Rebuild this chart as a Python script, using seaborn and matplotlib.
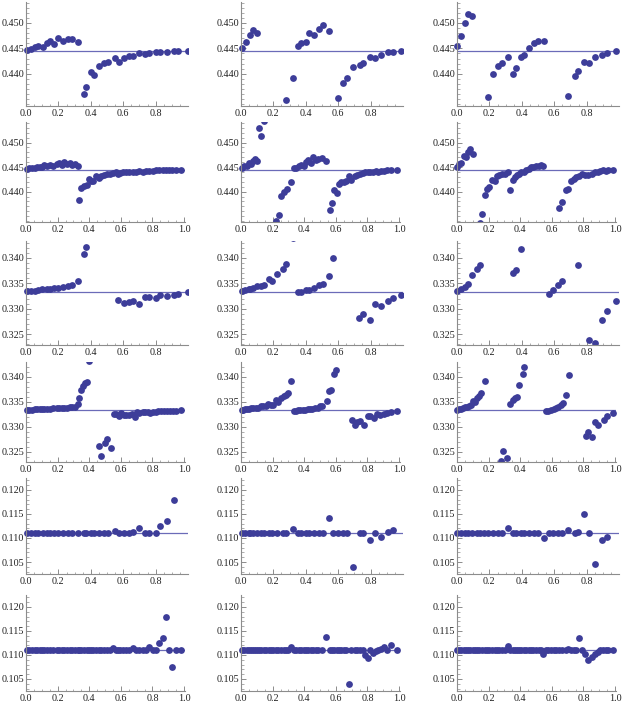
import matplotlib.pyplot as plt
from matplotlib.ticker import MultipleLocator, FixedLocator, FormatStrFormatter
import seaborn as sns

# ---- data (x, value) ----
# row 1  (level 4/9)
r1c1_x = [0.006, 0.033, 0.057, 0.074, 0.103, 0.129, 0.146, 0.174, 0.197, 0.226, 0.258, 0.283, 0.320,
          0.355, 0.371, 0.402, 0.421, 0.453, 0.484, 0.509, 0.550, 0.574, 0.603, 0.636, 0.658, 0.699,
          0.734, 0.759, 0.800, 0.827, 0.868, 0.911, 0.939, 0.997]
r1c1_y = [0.4447, 0.4449, 0.4452, 0.4454, 0.4453, 0.4461, 0.4464, 0.4459, 0.4470, 0.4464, 0.4468, 0.4469, 0.4462,
          0.4361, 0.4374, 0.4404, 0.4397, 0.4416, 0.4421, 0.4423, 0.4431, 0.4424, 0.4432, 0.4435, 0.4436, 0.4440,
          0.4439, 0.4440, 0.4442, 0.4442, 0.4443, 0.4444, 0.4444, 0.4444]
r1c2_x = [0.006, 0.031, 0.053, 0.071, 0.098, 0.279, 0.320, 0.352, 0.371, 0.401, 0.420, 0.448, 0.483, 0.505,
          0.544, 0.601, 0.631, 0.656, 0.694, 0.733, 0.754, 0.794, 0.825, 0.862, 0.906, 0.937, 0.988]
r1c2_y = [0.4451, 0.4462, 0.4477, 0.4486, 0.4481, 0.4349, 0.4391, 0.4455, 0.4461, 0.4462, 0.4481, 0.4477, 0.4488, 0.4495,
          0.4484, 0.4353, 0.4382, 0.4391, 0.4414, 0.4418, 0.4422, 0.4433, 0.4431, 0.4438, 0.4442, 0.4443, 0.4445]
r1c3_x = [0.002, 0.026, 0.051, 0.067, 0.095, 0.190, 0.221, 0.253, 0.277, 0.316, 0.348, 0.366, 0.395, 0.415,
          0.443, 0.476, 0.498, 0.538, 0.684, 0.727, 0.747, 0.787, 0.816, 0.852, 0.897, 0.927, 0.980]
r1c3_y = [0.4455, 0.4475, 0.4500, 0.4518, 0.4513, 0.4354, 0.4400, 0.4415, 0.4421, 0.4434, 0.4399, 0.4412, 0.4434, 0.4438,
          0.4450, 0.4460, 0.4465, 0.4464, 0.4356, 0.4395, 0.4405, 0.4424, 0.4421, 0.4434, 0.4438, 0.4441, 0.4444]

# row 2  (level 4/9, finer sampling)
r2c1_x = [0.006, 0.021, 0.038, 0.054, 0.071, 0.086, 0.100, 0.113, 0.132, 0.153, 0.174, 0.195, 0.209, 0.226,
          0.243, 0.259, 0.278, 0.293, 0.310, 0.326,
          0.337, 0.351, 0.368, 0.383, 0.397, 0.410, 0.425, 0.446, 0.460, 0.477, 0.494, 0.515, 0.531, 0.550,
          0.567, 0.582, 0.598, 0.615, 0.634, 0.655, 0.676, 0.697, 0.718, 0.738, 0.759, 0.780, 0.801, 0.822,
          0.843, 0.864, 0.885, 0.906, 0.927, 0.948, 0.979]
r2c1_y = [0.4447, 0.4448, 0.4449, 0.4449, 0.4450, 0.4450, 0.4450, 0.4455, 0.4453, 0.4454, 0.4452, 0.4456, 0.4458, 0.4455,
          0.4460, 0.4456, 0.4458, 0.4455, 0.4456, 0.4452,
          0.4382, 0.4407, 0.4412, 0.4414, 0.4426, 0.4422, 0.4422, 0.4431, 0.4427, 0.4432, 0.4434, 0.4435, 0.4436, 0.4437,
          0.4439, 0.4435, 0.4437, 0.4439, 0.4439, 0.4440, 0.4441, 0.4441, 0.4442, 0.4441, 0.4442, 0.4443, 0.4443, 0.4444,
          0.4444, 0.4444, 0.4444, 0.4444, 0.4444, 0.4444, 0.4444]
r2c2_x = [0.006, 0.021, 0.035, 0.048, 0.063, 0.077, 0.090, 0.104, 0.115, 0.129, 0.146,
          0.223, 0.240, 0.256, 0.273, 0.292, 0.319,
          0.333, 0.348, 0.365, 0.381, 0.396, 0.410, 0.427, 0.444, 0.458, 0.475, 0.490, 0.510, 0.535,
          0.563, 0.573, 0.590, 0.606, 0.619, 0.635, 0.652, 0.667, 0.683, 0.698, 0.719, 0.735, 0.752, 0.769,
          0.785, 0.802, 0.819, 0.835, 0.852, 0.869, 0.885, 0.906, 0.927, 0.948, 0.985]
r2c2_y = [0.4449, 0.4452, 0.4453, 0.4459, 0.4457, 0.4462, 0.4466, 0.4463, 0.4529, 0.4514, 0.4545,
          0.4340, 0.4352, 0.4392, 0.4400, 0.4405, 0.4420,
          0.4448, 0.4449, 0.4452, 0.4454, 0.4452, 0.4461, 0.4464, 0.4459, 0.4471, 0.4465, 0.4466, 0.4469, 0.4463,
          0.4363, 0.4376, 0.4403, 0.4397, 0.4416, 0.4419, 0.4420, 0.4422, 0.4431, 0.4424, 0.4432, 0.4434, 0.4435, 0.4437,
          0.4439, 0.4439, 0.4441, 0.4441, 0.4442, 0.4441, 0.4443, 0.4443, 0.4444, 0.4444, 0.4444]
r2c3_x = [0.002, 0.015, 0.027, 0.042, 0.057, 0.069, 0.084, 0.099,
          0.147, 0.158, 0.175, 0.192, 0.204, 0.221, 0.238, 0.253, 0.267, 0.284, 0.301, 0.322,
          0.337, 0.352, 0.364, 0.379, 0.394, 0.406, 0.421, 0.436, 0.453, 0.469, 0.484, 0.499, 0.516, 0.533, 0.547,
          0.648, 0.667, 0.688, 0.705, 0.722, 0.739, 0.756, 0.773, 0.789, 0.811, 0.832, 0.853, 0.874, 0.891,
          0.907, 0.926, 0.941, 0.958, 0.989]
r2c3_y = [0.4451, 0.4456, 0.4458, 0.4473, 0.4470, 0.4480, 0.4486, 0.4476,
          0.4335, 0.4354, 0.4393, 0.4405, 0.4410, 0.4424, 0.4422, 0.4431, 0.4433, 0.4435, 0.4435, 0.4439,
          0.4403, 0.4424, 0.4429, 0.4433, 0.4436, 0.4439, 0.4441, 0.4445, 0.4446, 0.4450, 0.4450, 0.4452, 0.4453, 0.4454, 0.4452,
          0.4366, 0.4378, 0.4403, 0.4405, 0.4422, 0.4426, 0.4429, 0.4431, 0.4435, 0.4433, 0.4434, 0.4436, 0.4441, 0.4439,
          0.4442, 0.4444, 0.4443, 0.4444, 0.4444]

# row 3  (level 1/3)
r3c1_x = [0.006, 0.033, 0.053, 0.074, 0.098, 0.129, 0.146, 0.174, 0.197, 0.226, 0.258, 0.283, 0.320, 0.355,
          0.371, 0.570, 0.603, 0.636, 0.658, 0.699, 0.734, 0.759, 0.800, 0.827, 0.868, 0.911, 0.939, 0.997]
r3c1_y = [0.3335, 0.3335, 0.3335, 0.3336, 0.3338, 0.3338, 0.3339, 0.3341, 0.3340, 0.3343, 0.3345, 0.3346, 0.3355, 0.3407,
          0.3421, 0.3318, 0.3311, 0.3314, 0.3316, 0.3309, 0.3323, 0.3324, 0.3321, 0.3327, 0.3325, 0.3328, 0.3330, 0.3332]
r3c2_x = [0.006, 0.026, 0.047, 0.057, 0.071, 0.098, 0.126, 0.143, 0.173, 0.193, 0.224, 0.259, 0.279, 0.320,
          0.352, 0.371, 0.401, 0.420, 0.448, 0.483, 0.505, 0.544, 0.570, 0.729, 0.756, 0.794, 0.825, 0.862,
          0.906, 0.937, 0.988]
r3c2_y = [0.3335, 0.3336, 0.3339, 0.3339, 0.3340, 0.3345, 0.3345, 0.3346, 0.3358, 0.3354, 0.3369, 0.3379, 0.3387, 0.3439,
          0.3332, 0.3333, 0.3336, 0.3337, 0.3341, 0.3346, 0.3348, 0.3364, 0.3400, 0.3281, 0.3289, 0.3279, 0.3309, 0.3305,
          0.3315, 0.3321, 0.3327]
r3c3_x = [0.002, 0.026, 0.051, 0.067, 0.093, 0.123, 0.142, 0.348, 0.366, 0.395, 0.565, 0.593, 0.623, 0.650,
          0.745, 0.812, 0.854, 0.897, 0.927, 0.980]
r3c3_y = [0.3335, 0.3338, 0.3343, 0.3348, 0.3366, 0.3378, 0.3386, 0.3370, 0.3377, 0.3418, 0.3330, 0.3336, 0.3347, 0.3354,
          0.3385, 0.3238, 0.3232, 0.3278, 0.3296, 0.3316]

# row 4  (level 1/3, finer sampling)
r4c1_x = [0.006, 0.021, 0.038, 0.054, 0.071, 0.086, 0.100, 0.117, 0.132, 0.153, 0.174, 0.195, 0.209, 0.226,
          0.243, 0.259, 0.278, 0.293, 0.310, 0.326, 0.337, 0.351, 0.362, 0.372, 0.383, 0.397,
          0.460, 0.477, 0.498, 0.515, 0.536,
          0.556, 0.571, 0.586, 0.603, 0.619, 0.634, 0.655, 0.669, 0.690, 0.703, 0.718, 0.738, 0.753, 0.770,
          0.787, 0.801, 0.822, 0.837, 0.854, 0.874, 0.895, 0.912, 0.933, 0.948, 0.979]
r4c1_y = [0.3334, 0.3334, 0.3334, 0.3335, 0.3335, 0.3335, 0.3335, 0.3335, 0.3335, 0.3336, 0.3337, 0.3337, 0.3337, 0.3337,
          0.3337, 0.3338, 0.3339, 0.3339, 0.3340, 0.3346, 0.3358, 0.3374, 0.3381, 0.3387, 0.3389, 0.3430,
          0.3261, 0.3241, 0.3267, 0.3276, 0.3258,
          0.3325, 0.3325, 0.3321, 0.3327, 0.3323, 0.3324, 0.3324, 0.3325, 0.3320, 0.3330, 0.3328, 0.3329, 0.3329, 0.3329,
          0.3327, 0.3330, 0.3330, 0.3331, 0.3331, 0.3331, 0.3331, 0.3331, 0.3332, 0.3332, 0.3333]
r4c2_x = [0.006, 0.015, 0.027, 0.040, 0.052, 0.065, 0.077, 0.094, 0.110, 0.125, 0.140, 0.156, 0.173, 0.190,
          0.204, 0.219, 0.235, 0.252, 0.269, 0.285, 0.298, 0.319,
          0.333, 0.348, 0.360, 0.375, 0.390, 0.406, 0.423, 0.438, 0.452, 0.469, 0.485, 0.500, 0.515, 0.542,
          0.556, 0.569, 0.590, 0.604,
          0.702, 0.719, 0.735, 0.750, 0.777, 0.802, 0.819, 0.844, 0.860, 0.877, 0.906, 0.927, 0.948, 0.985]
r4c2_y = [0.3333, 0.3334, 0.3335, 0.3335, 0.3336, 0.3337, 0.3337, 0.3338, 0.3337, 0.3341, 0.3341, 0.3342, 0.3346, 0.3344,
          0.3344, 0.3353, 0.3349, 0.3358, 0.3361, 0.3364, 0.3368, 0.3391,
          0.3332, 0.3332, 0.3333, 0.3333, 0.3334, 0.3334, 0.3335, 0.3335, 0.3336, 0.3337, 0.3338, 0.3341, 0.3342, 0.3351,
          0.3371, 0.3373, 0.3405, 0.3413,
          0.3314, 0.3304, 0.3309, 0.3311, 0.3304, 0.3321, 0.3321, 0.3317, 0.3326, 0.3323, 0.3325, 0.3327, 0.3329, 0.3331]
r4c3_x = [0.002, 0.015, 0.027, 0.040, 0.053, 0.065, 0.078, 0.091, 0.103, 0.116, 0.128, 0.141, 0.154, 0.175,
          0.280, 0.293, 0.318,
          0.337, 0.352, 0.364, 0.379, 0.394, 0.415, 0.427,
          0.564, 0.579, 0.596, 0.611, 0.625, 0.642, 0.659, 0.674, 0.693, 0.709,
          0.819, 0.832, 0.857, 0.874, 0.895, 0.928, 0.949, 0.985]
r4c3_y = [0.3334, 0.3335, 0.3336, 0.3337, 0.3339, 0.3339, 0.3341, 0.3343, 0.3352, 0.3349, 0.3357, 0.3362, 0.3367, 0.3392,
          0.3231, 0.3252, 0.3237,
          0.3346, 0.3354, 0.3358, 0.3360, 0.3383, 0.3405, 0.3420,
          0.3331, 0.3332, 0.3333, 0.3335, 0.3337, 0.3340, 0.3344, 0.3348, 0.3364, 0.3403,
          0.3282, 0.3290, 0.3279, 0.3310, 0.3304, 0.3314, 0.3321, 0.3327]

# row 5  (level 1/9)
r5c1_x = [0.006, 0.033, 0.057, 0.074, 0.103, 0.129, 0.146, 0.174, 0.197, 0.226,
          0.258, 0.283, 0.320, 0.355, 0.371, 0.402, 0.421, 0.453, 0.484, 0.509,
          0.550, 0.574, 0.603, 0.636, 0.658, 0.699, 0.734, 0.759, 0.800, 0.827,
          0.868, 0.911]
r5c1_y = [0.1111, 0.1111, 0.1111, 0.1111, 0.1111, 0.1111, 0.1111, 0.1111, 0.1111, 0.1111,
          0.1111, 0.1111, 0.1111, 0.1111, 0.1111, 0.1111, 0.1111, 0.1111, 0.1111, 0.1111,
          0.1114, 0.1111, 0.1111, 0.1111, 0.1112, 0.1121, 0.1111, 0.1110, 0.1111, 0.1125,
          0.1136, 0.1180]
r5c2_x = [0.006, 0.026, 0.047, 0.057, 0.071, 0.098, 0.126, 0.143, 0.173, 0.193,
          0.224, 0.259, 0.279, 0.320, 0.352, 0.371, 0.401, 0.420, 0.448, 0.483,
          0.505, 0.544, 0.570, 0.601, 0.631, 0.656, 0.694, 0.733, 0.754, 0.794,
          0.825, 0.862, 0.906, 0.937]
r5c2_y = [0.1111, 0.1111, 0.1111, 0.1111, 0.1111, 0.1111, 0.1111, 0.1111, 0.1111, 0.1111,
          0.1111, 0.1111, 0.1111, 0.1118, 0.1111, 0.1111, 0.1111, 0.1111, 0.1111, 0.1111,
          0.1111, 0.1141, 0.1111, 0.1111, 0.1111, 0.1111, 0.1040, 0.1111, 0.1111, 0.1095,
          0.1110, 0.1103, 0.1113, 0.1117]
r5c3_x = [0.002, 0.026, 0.051, 0.067, 0.095, 0.123, 0.142, 0.166, 0.190, 0.221,
          0.253, 0.277, 0.316, 0.348, 0.366, 0.395, 0.415, 0.443, 0.476, 0.498,
          0.538, 0.565, 0.593, 0.623, 0.650, 0.684, 0.727, 0.747, 0.787, 0.816,
          0.852, 0.897, 0.927]
r5c3_y = [0.1111, 0.1111, 0.1111, 0.1111, 0.1111, 0.1111, 0.1111, 0.1111, 0.1111, 0.1111,
          0.1111, 0.1111, 0.1121, 0.1111, 0.1111, 0.1111, 0.1111, 0.1111, 0.1111, 0.1111,
          0.1101, 0.1111, 0.1111, 0.1111, 0.1111, 0.1116, 0.1111, 0.1113, 0.1150, 0.1111,
          0.1045, 0.1095, 0.1103]

# row 6  (level 1/9, finer sampling)
r6c1_x = [0.006, 0.021, 0.038, 0.054, 0.071, 0.086, 0.100, 0.113, 0.132, 0.153,
          0.174, 0.195, 0.209, 0.226, 0.243, 0.259, 0.278, 0.293, 0.310, 0.326,
          0.337, 0.351, 0.368, 0.383, 0.397, 0.410, 0.425, 0.446, 0.460, 0.477,
          0.494, 0.515, 0.531, 0.550, 0.567, 0.582, 0.598, 0.615, 0.634, 0.655,
          0.676, 0.697, 0.718, 0.738, 0.759, 0.780, 0.801, 0.822, 0.843, 0.864,
          0.885, 0.906, 0.927, 0.948, 0.979]
r6c1_y = [0.1111, 0.1111, 0.1111, 0.1111, 0.1111, 0.1111, 0.1111, 0.1111, 0.1111, 0.1111,
          0.1111, 0.1111, 0.1111, 0.1111, 0.1111, 0.1111, 0.1111, 0.1111, 0.1111, 0.1111,
          0.1111, 0.1111, 0.1111, 0.1111, 0.1111, 0.1111, 0.1111, 0.1111, 0.1111, 0.1111,
          0.1111, 0.1111, 0.1111, 0.1114, 0.1111, 0.1111, 0.1111, 0.1111, 0.1111, 0.1111,
          0.1115, 0.1111, 0.1111, 0.1111, 0.1111, 0.1117, 0.1111, 0.1111, 0.1125, 0.1136,
          0.1180, 0.1111, 0.1075, 0.1111, 0.1111]
r6c2_x = [0.006, 0.021, 0.035, 0.048, 0.063, 0.077, 0.090, 0.104, 0.115, 0.129,
          0.146, 0.160, 0.175, 0.190, 0.204, 0.219, 0.235, 0.252, 0.269, 0.285,
          0.298, 0.319, 0.333, 0.348, 0.365, 0.381, 0.396, 0.410, 0.427, 0.444,
          0.458, 0.475, 0.490, 0.510, 0.535, 0.563, 0.573, 0.590, 0.606, 0.619,
          0.635, 0.652, 0.667, 0.683, 0.698, 0.719, 0.735, 0.752, 0.769, 0.785,
          0.802, 0.819, 0.835, 0.852, 0.869, 0.885, 0.906, 0.927, 0.948, 0.985]
r6c2_y = [0.1111, 0.1111, 0.1111, 0.1111, 0.1111, 0.1111, 0.1111, 0.1111, 0.1111, 0.1111,
          0.1111, 0.1111, 0.1111, 0.1111, 0.1111, 0.1111, 0.1111, 0.1111, 0.1111, 0.1111,
          0.1111, 0.1117, 0.1111, 0.1111, 0.1111, 0.1111, 0.1111, 0.1111, 0.1111, 0.1111,
          0.1111, 0.1111, 0.1111, 0.1111, 0.1137, 0.1111, 0.1111, 0.1111, 0.1111, 0.1111,
          0.1111, 0.1111, 0.1111, 0.1040, 0.1111, 0.1111, 0.1111, 0.1111, 0.1111, 0.1100,
          0.1093, 0.1111, 0.1105, 0.1108, 0.1111, 0.1112, 0.1116, 0.1111, 0.1120, 0.1111]
r6c3_x = [0.002, 0.015, 0.027, 0.042, 0.057, 0.069, 0.084, 0.099, 0.116, 0.128,
          0.141, 0.158, 0.175, 0.192, 0.204, 0.221, 0.238, 0.253, 0.267, 0.284,
          0.301, 0.322, 0.337, 0.352, 0.364, 0.379, 0.394, 0.406, 0.421, 0.436,
          0.453, 0.469, 0.484, 0.499, 0.516, 0.533, 0.547, 0.564, 0.579, 0.596,
          0.611, 0.625, 0.648, 0.667, 0.688, 0.705, 0.722, 0.739, 0.756, 0.773,
          0.789, 0.811, 0.832, 0.853, 0.874, 0.891, 0.907, 0.926, 0.941, 0.958,
          0.989]
r6c3_y = [0.1111, 0.1111, 0.1111, 0.1111, 0.1111, 0.1111, 0.1111, 0.1111, 0.1111, 0.1111,
          0.1111, 0.1111, 0.1111, 0.1111, 0.1111, 0.1111, 0.1111, 0.1111, 0.1111, 0.1111,
          0.1111, 0.1119, 0.1111, 0.1111, 0.1111, 0.1111, 0.1111, 0.1111, 0.1111, 0.1111,
          0.1111, 0.1111, 0.1111, 0.1111, 0.1111, 0.1111, 0.1102, 0.1111, 0.1111, 0.1111,
          0.1111, 0.1111, 0.1111, 0.1111, 0.1111, 0.1113, 0.1111, 0.1111, 0.1111, 0.1136,
          0.1110, 0.1103, 0.1090, 0.1095, 0.1103, 0.1107, 0.1111, 0.1111, 0.1111, 0.1111,
          0.1111]

row_levels = [0.44444, 0.44444, 0.33333, 0.33333, 0.11111, 0.11111]
row_yticks = [[0.440, 0.445, 0.450], [0.440, 0.445, 0.450],
              [0.325, 0.330, 0.335, 0.340], [0.325, 0.330, 0.335, 0.340],
              [0.105, 0.110, 0.115, 0.120], [0.105, 0.110, 0.115, 0.120]]

panels = [
    [(r1c1_x, r1c1_y), (r1c2_x, r1c2_y), (r1c3_x, r1c3_y)],
    [(r2c1_x, r2c1_y), (r2c2_x, r2c2_y), (r2c3_x, r2c3_y)],
    [(r3c1_x, r3c1_y), (r3c2_x, r3c2_y), (r3c3_x, r3c3_y)],
    [(r4c1_x, r4c1_y), (r4c2_x, r4c2_y), (r4c3_x, r4c3_y)],
    [(r5c1_x, r5c1_y), (r5c2_x, r5c2_y), (r5c3_x, r5c3_y)],
    [(r6c1_x, r6c1_y), (r6c2_x, r6c2_y), (r6c3_x, r6c3_y)],
]

# ---- layout (pixels) ----
W, H = 623, 719
col_zero = [26, 241, 457]                    # pixel where x = 0 sits
row_px = [(2, 106), (122, 222), (241, 345), (362, 462), (478, 574), (595, 691)]
row_ylim = [(0.4337, 0.4541), (0.4338, 0.4542), (0.3229, 0.3433),
            (0.3230, 0.3429), (0.1025, 0.1225), (0.1025, 0.1225)]
X_LO = -0.03

DOT = "#3d3d99"
LINE = "#6b6bb8"
AXC = "#8c8c8c"

sns.set_style("ticks")
plt.rcParams['font.family'] = ['Liberation Serif', 'DejaVu Serif']

fig = plt.figure(figsize=(W / 100, H / 100), dpi=100)

for r in range(6):
    top, bot = row_px[r]
    odd = (r % 2 == 0)
    x_hi = 0.999 if odd else 1.005
    px_per_unit = 162 if odd else 158
    for c in range(3):
        xs, ys = panels[r][c]
        left = col_zero[c] + X_LO * px_per_unit
        width = (x_hi - X_LO) * px_per_unit
        ax = fig.add_axes([left / W, 1 - bot / H, width / W, (bot - top) / H])

        ax.hlines(row_levels[r], 0, x_hi, color=LINE, lw=0.9, zorder=1)
        sns.scatterplot(x=xs, y=ys, ax=ax, color=DOT, s=24, linewidth=0,
                        legend=False, zorder=2)

        ax.set_xlim(X_LO, x_hi)
        ax.set_ylim(*row_ylim[r])
        ax.set_xlabel("")
        ax.set_ylabel("")

        ax.spines[['top', 'right']].set_visible(False)
        ax.spines['left'].set_position(('data', 0))
        ax.spines['bottom'].set_bounds(0, x_hi)
        for s in ('left', 'bottom'):
            ax.spines[s].set_color(AXC)
            ax.spines[s].set_linewidth(0.8)

        ax.xaxis.set_major_locator(MultipleLocator(0.2))
        ax.xaxis.set_minor_locator(MultipleLocator(0.05))
        ax.yaxis.set_major_locator(FixedLocator(row_yticks[r]))
        ax.yaxis.set_minor_locator(MultipleLocator(0.001))
        ax.xaxis.set_major_formatter(FormatStrFormatter('%.1f'))
        ax.yaxis.set_major_formatter(FormatStrFormatter('%.3f'))
        ax.tick_params(which='major', direction='in', length=3.5, width=0.7,
                       color=AXC, labelsize=7.3, labelcolor='#222222', pad=1.5)
        ax.tick_params(axis='x', which='major', pad=2.5)
        ax.tick_params(which='minor', direction='in', length=1.8, width=0.5, color=AXC)
        ax.patch.set_visible(False)

fig.savefig("out.png", dpi=100)
